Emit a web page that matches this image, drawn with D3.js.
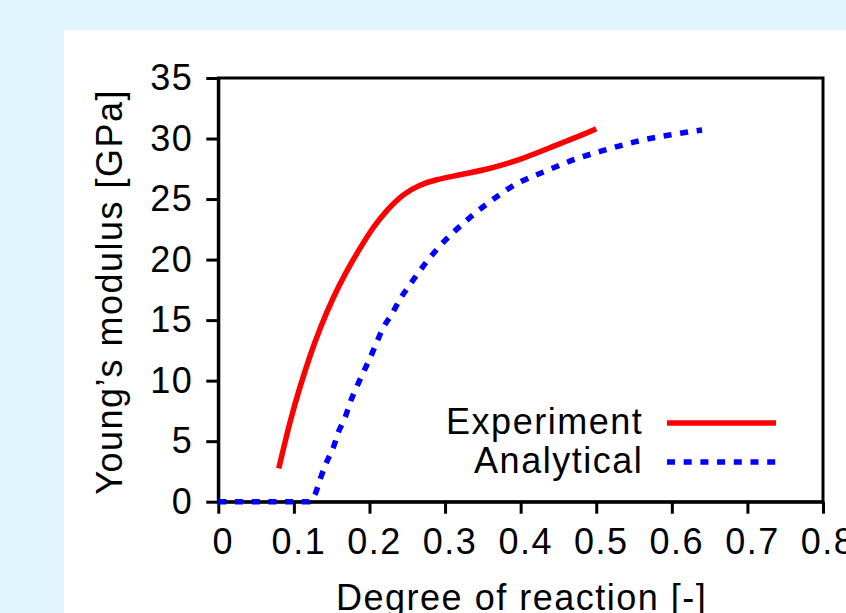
<!DOCTYPE html>
<html>
<head>
<meta charset="utf-8">
<script src="https://cdn.jsdelivr.net/npm/d3@7"></script>
<style>
  html, body { margin: 0; padding: 0; background: #e0f5fd; }
  svg { display: block; }
  text { font-family: "Liberation Sans", Arial, Helvetica, sans-serif; fill: #000; }
</style>
</head>
<body>
<svg id="chart" width="846" height="613"></svg>
<script>
// Measured Young's modulus vs. degree of reaction
const experimentX = [0.080, 0.095, 0.108, 0.122, 0.135, 0.152, 0.170, 0.188, 0.205, 0.223, 0.245, 0.267, 0.289, 0.311, 0.333, 0.355, 0.373, 0.395, 0.417, 0.439, 0.461, 0.483, 0.500];
const experimentY = [2.75, 6.7, 9.5, 12.2, 14.4, 16.9, 19.1, 21.0, 22.7, 24.1, 25.45, 26.2, 26.62, 26.9, 27.17, 27.46, 27.76, 28.18, 28.7, 29.25, 29.8, 30.33, 30.8];

// Analytical prediction
const analyticalX = [0.0, 0.06, 0.12, 0.128, 0.135, 0.1435, 0.1523, 0.159, 0.168, 0.1744, 0.183, 0.192, 0.201, 0.2098, 0.2185, 0.2297, 0.2406, 0.2526, 0.265, 0.278, 0.2914, 0.3224, 0.3576, 0.393, 0.4327, 0.4725, 0.5144, 0.556, 0.598, 0.640];
const analyticalY = [0, 0, 0, 0.6, 1.9, 3.3, 4.5, 5.77, 7.0, 8.2, 9.47, 10.7, 11.9, 13.2, 14.4, 15.5, 16.75, 17.85, 18.94, 20.0, 21.0, 22.9, 24.7, 26.2, 27.3, 28.3, 29.1, 29.8, 30.3, 30.7];

const xTicks = [0, 0.1, 0.2, 0.3, 0.4, 0.5, 0.6, 0.7, 0.8];
const xTickLabels = ["0", "0.1", "0.2", "0.3", "0.4", "0.5", "0.6", "0.7", "0.8"];
const yTicks = [0, 5, 10, 15, 20, 25, 30, 35];
const yTickLabels = ["0", "5", "10", "15", "20", "25", "30", "35"];

const seriesNames = ["Experiment", "Analytical"];
const xTitle = "Degree of reaction [-]";
const yTitle = "Young\u2019s modulus [GPa]";

const svg = d3.select("#chart");
const W = 846, H = 613;
const FONT = 36, SPACING = 1.5;

// page background and white panel
svg.append("rect").attr("width", W).attr("height", H).attr("fill", "#e0f5fd");
svg.append("rect").attr("x", 64).attr("y", 30).attr("width", W - 64).attr("height", H - 30).attr("fill", "#ffffff");

const x = d3.scaleLinear().domain([0, 0.8]).range([218.3, 823]);
const y = d3.scaleLinear().domain([0, 35]).range([501.7, 78]);

// plot frame
svg.append("rect")
  .attr("x", x(0)).attr("y", y(35))
  .attr("width", x(0.8) - x(0)).attr("height", y(0) - y(35))
  .attr("fill", "none").attr("stroke", "#000").attr("stroke-width", 3);

// y axis
const yAxis = svg.append("g")
  .attr("transform", `translate(${x(0)},0)`)
  .call(d3.axisLeft(y).tickValues(yTicks).tickFormat((d, i) => yTickLabels[i]).tickSize(12).tickSizeOuter(0));
yAxis.select(".domain").attr("stroke", "#000").attr("stroke-width", 3);
yAxis.selectAll(".tick line").attr("stroke", "#000").attr("stroke-width", 3);
yAxis.selectAll(".tick text")
  .attr("x", -25).attr("y", 11.5).attr("dy", null)
  .attr("font-size", FONT).attr("letter-spacing", SPACING)
  .attr("font-family", null).style("fill", "#000");

// x axis
const xAxis = svg.append("g")
  .attr("transform", `translate(0,${y(0)})`)
  .call(d3.axisBottom(x).tickValues(xTicks).tickFormat((d, i) => xTickLabels[i]).tickSize(12).tickSizeOuter(0));
xAxis.select(".domain").attr("stroke", "#000").attr("stroke-width", 3);
xAxis.selectAll(".tick line").attr("stroke", "#000").attr("stroke-width", 3);
xAxis.selectAll(".tick text")
  .attr("x", 4.5).attr("y", 52.5).attr("dy", null)
  .attr("font-size", FONT).attr("letter-spacing", SPACING)
  .attr("font-family", null).style("fill", "#000");

// axis titles
svg.append("text")
  .attr("x", (x(0) + x(0.8)) / 2 + 1).attr("y", 610)
  .attr("text-anchor", "middle")
  .attr("font-size", FONT).attr("letter-spacing", SPACING)
  .text(xTitle);

svg.append("text")
  .attr("transform", `translate(122,${(y(0) + y(35)) / 2 + 2}) rotate(-90)`)
  .attr("text-anchor", "middle")
  .attr("font-size", FONT).attr("letter-spacing", SPACING)
  .text(yTitle);

// curves: B-spline for the smooth measured curve,
// monotone for the analytical one (flat segment then a kink)
const smoothLine = d3.line()
  .x(d => x(d[0]))
  .y(d => y(d[1]))
  .curve(d3.curveBasis);

const monoLine = d3.line()
  .x(d => x(d[0]))
  .y(d => y(d[1]))
  .curve(d3.curveMonotoneX);

const experiment = experimentX.map((v, i) => [v, experimentY[i]]);
const analytical = analyticalX.map((v, i) => [v, analyticalY[i]]);

svg.append("path")
  .datum(experiment)
  .attr("d", smoothLine)
  .attr("fill", "none")
  .attr("stroke", "#ff0000")
  .attr("stroke-width", 5.5)
  .attr("stroke-linejoin", "round");

svg.append("path")
  .datum(analytical)
  .attr("d", monoLine)
  .attr("fill", "none")
  .attr("stroke", "#0000ff")
  .attr("stroke-width", 5.5)
  .attr("stroke-dasharray", "8,8.7");

// legend
const legend = svg.append("g");
const legendRows = [
  { name: seriesNames[0], color: "#ff0000", dash: null, base: 434, mid: 423 },
  { name: seriesNames[1], color: "#0000ff", dash: "8,8.7", base: 473, mid: 462 }
];
legendRows.forEach(r => {
  legend.append("text")
    .attr("x", 643.2).attr("y", r.base)
    .attr("text-anchor", "end")
    .attr("font-size", FONT).attr("letter-spacing", SPACING)
    .text(r.name);
  legend.append("line")
    .attr("x1", 667).attr("x2", 776)
    .attr("y1", r.mid).attr("y2", r.mid)
    .attr("stroke", r.color).attr("stroke-width", 5.5)
    .attr("stroke-dasharray", r.dash);
});
</script>
</body>
</html>
